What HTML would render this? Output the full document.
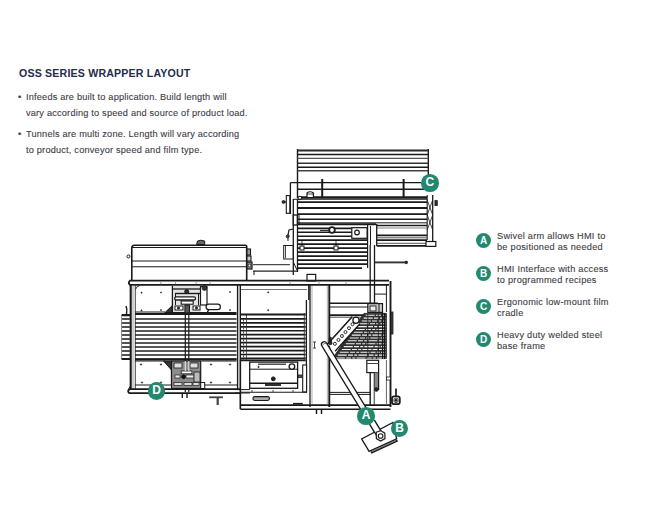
<!DOCTYPE html>
<html><head><meta charset="utf-8">
<style>
html,body{margin:0;padding:0;background:#fff;}
body{width:650px;height:509px;position:relative;overflow:hidden;font-family:"Liberation Sans",sans-serif;}
.t{position:absolute;white-space:nowrap;}
#title{left:19px;top:67px;font-size:10.6px;font-weight:bold;color:#252b4a;letter-spacing:0.19px;}
.b{font-size:9.2px;color:#3e3e46;letter-spacing:0.2px;-webkit-text-stroke:0.12px #3e3e46;}
.leg{font-size:9.2px;color:#3e3e46;line-height:11.4px;letter-spacing:0.25px;-webkit-text-stroke:0.12px #3e3e46;}
.circ{position:absolute;width:15px;height:15px;border-radius:50%;background:#22896f;color:#fff;font-weight:bold;font-size:10px;text-align:center;line-height:15px;}
.dc{position:absolute;width:17.5px;height:17.5px;border-radius:50%;background:#22896f;color:#fff;font-weight:bold;font-size:12px;text-align:center;line-height:17.5px;}
svg{position:absolute;left:0;top:0;}
</style></head><body>
<svg width="650" height="509" viewBox="0 0 650 509" stroke-linecap="butt">
<line x1="297.5" y1="149" x2="297.5" y2="198" stroke="#1a1a1a" stroke-width="1.4"/>
<line x1="428.3" y1="149" x2="428.3" y2="190" stroke="#1a1a1a" stroke-width="1.4"/>
<line x1="297.5" y1="150.5" x2="428.3" y2="150.5" stroke="#2a2a2a" stroke-width="1.8"/>
<line x1="297.5" y1="154.6" x2="428.3" y2="154.6" stroke="#1a1a1a" stroke-width="1.5"/>
<line x1="297.5" y1="158.3" x2="428.3" y2="158.3" stroke="#555" stroke-width="1.2"/>
<line x1="297.5" y1="163.2" x2="428.3" y2="163.2" stroke="#333" stroke-width="1.5"/>
<line x1="297.5" y1="167.2" x2="428.3" y2="167.2" stroke="#1a1a1a" stroke-width="1.5"/>
<line x1="297.5" y1="170.8" x2="428.3" y2="170.8" stroke="#444" stroke-width="1.6"/>
<line x1="290.4" y1="182.7" x2="421" y2="182.7" stroke="#1a1a1a" stroke-width="1.3"/>
<line x1="290.4" y1="182.7" x2="290.4" y2="214" stroke="#1a1a1a" stroke-width="1.3"/>
<line x1="322.2" y1="179" x2="322.2" y2="197" stroke="#1a1a1a" stroke-width="2.0"/>
<line x1="403.6" y1="179" x2="403.6" y2="197" stroke="#1a1a1a" stroke-width="2.0"/>
<line x1="297.5" y1="189.2" x2="428" y2="189.2" stroke="#1a1a1a" stroke-width="1.4"/>
<line x1="300" y1="197.4" x2="427" y2="197.4" stroke="#1a1a1a" stroke-width="2.5"/>
<path d="M307,197 L307,193 Q310,190.5 313.4,193 L313.4,197" stroke="#1a1a1a" stroke-width="1.2" fill="#fff"/>
<line x1="307" y1="194" x2="313.4" y2="194" stroke="#1a1a1a" stroke-width="0.8"/>
<circle cx="299.8" cy="198" r="1.8" stroke="#1a1a1a" stroke-width="1.1" fill="#fff"/>
<line x1="293.3" y1="199.2" x2="427" y2="199.2" stroke="#1a1a1a" stroke-width="1.1"/>
<line x1="297.5" y1="202.1" x2="427" y2="202.1" stroke="#1a1a1a" stroke-width="1.8"/>
<line x1="297.5" y1="208" x2="427" y2="208" stroke="#1a1a1a" stroke-width="1.8"/>
<line x1="297.5" y1="214.2" x2="427" y2="214.2" stroke="#1a1a1a" stroke-width="1.8"/>
<line x1="297.5" y1="219.2" x2="427" y2="219.2" stroke="#1a1a1a" stroke-width="1.6"/>
<line x1="297.5" y1="222.8" x2="427" y2="222.8" stroke="#666" stroke-width="1.6"/>
<line x1="293.3" y1="199" x2="293.3" y2="275" stroke="#1a1a1a" stroke-width="1.3"/>
<line x1="297.5" y1="199" x2="297.5" y2="272" stroke="#1a1a1a" stroke-width="1.3"/>
<line x1="427.2" y1="195" x2="427.2" y2="240" stroke="#1a1a1a" stroke-width="1.1"/>
<line x1="432.7" y1="195" x2="432.7" y2="244" stroke="#1a1a1a" stroke-width="1.3"/>
<line x1="427.2" y1="200" x2="432.7" y2="215" stroke="#1a1a1a" stroke-width="0.8"/>
<line x1="432.7" y1="200" x2="427.2" y2="215" stroke="#1a1a1a" stroke-width="0.8"/>
<line x1="427.2" y1="215" x2="432.7" y2="230" stroke="#1a1a1a" stroke-width="0.8"/>
<line x1="432.7" y1="215" x2="427.2" y2="230" stroke="#1a1a1a" stroke-width="0.8"/>
<rect x="435" y="200.7" width="2.2" height="4.7" rx="0" stroke="#1a1a1a" stroke-width="1.0" fill="#333"/>
<rect x="286.3" y="195.6" width="3.5" height="17.7" rx="0" stroke="#1a1a1a" stroke-width="1.1" fill="#fff"/>
<circle cx="283.5" cy="202" r="1.4" stroke="#1a1a1a" stroke-width="1.0" fill="#333"/>
<line x1="284" y1="202" x2="286.3" y2="202" stroke="#1a1a1a" stroke-width="1.2"/>
<rect x="293.3" y="215" width="4" height="10" rx="0" stroke="#1a1a1a" stroke-width="1.3" fill="#fff"/>
<line x1="299" y1="215" x2="299" y2="225" stroke="#1a1a1a" stroke-width="1.0"/>
<path d="M293,229 L289,230 L288,235" stroke="#1a1a1a" stroke-width="1.2" fill="none"/>
<circle cx="287.5" cy="236.5" r="1.3" stroke="#1a1a1a" stroke-width="1.0" fill="none"/>
<line x1="297.5" y1="224.3" x2="376" y2="224.3" stroke="#1a1a1a" stroke-width="2.0"/>
<line x1="297.5" y1="228.28" x2="368" y2="228.28" stroke="#1a1a1a" stroke-width="1.7"/>
<line x1="297.5" y1="232.26000000000002" x2="368" y2="232.26000000000002" stroke="#1a1a1a" stroke-width="1.7"/>
<line x1="297.5" y1="236.24" x2="368" y2="236.24" stroke="#1a1a1a" stroke-width="1.7"/>
<line x1="297.5" y1="240.22" x2="368" y2="240.22" stroke="#1a1a1a" stroke-width="1.7"/>
<line x1="297.5" y1="244.20000000000002" x2="368" y2="244.20000000000002" stroke="#1a1a1a" stroke-width="1.7"/>
<line x1="297.5" y1="248.18" x2="368" y2="248.18" stroke="#1a1a1a" stroke-width="1.7"/>
<line x1="297.5" y1="252.16000000000003" x2="368" y2="252.16000000000003" stroke="#1a1a1a" stroke-width="1.7"/>
<line x1="297.5" y1="256.14" x2="368" y2="256.14" stroke="#1a1a1a" stroke-width="1.7"/>
<line x1="297.5" y1="260.12" x2="368" y2="260.12" stroke="#1a1a1a" stroke-width="1.7"/>
<line x1="297.5" y1="264.1" x2="368" y2="264.1" stroke="#1a1a1a" stroke-width="1.7"/>
<line x1="297.5" y1="268.08000000000004" x2="362" y2="268.08000000000004" stroke="#1a1a1a" stroke-width="1.7"/>
<circle cx="332" cy="230" r="2.8" stroke="#1a1a1a" stroke-width="1.8" fill="#fff"/>
<line x1="320" y1="230.4" x2="329" y2="230.4" stroke="#1a1a1a" stroke-width="1.0"/>
<rect x="300" y="246" width="4" height="4" rx="0" stroke="#1a1a1a" stroke-width="1.0" fill="#fff"/>
<rect x="334" y="246" width="4" height="4" rx="0" stroke="#1a1a1a" stroke-width="1.0" fill="#fff"/>
<line x1="302" y1="241" x2="302" y2="246" stroke="#1a1a1a" stroke-width="0.8"/>
<line x1="336" y1="241" x2="336" y2="246" stroke="#1a1a1a" stroke-width="0.8"/>
<rect x="351.8" y="227.7" width="15.3" height="10.6" rx="0" stroke="#1a1a1a" stroke-width="1.2" fill="#fff"/>
<circle cx="357" cy="232.5" r="2.3" stroke="#1a1a1a" stroke-width="1.2" fill="#fff"/>
<line x1="367.6" y1="224" x2="367.6" y2="268" stroke="#1a1a1a" stroke-width="1.2"/>
<line x1="370.5" y1="226" x2="370.5" y2="245" stroke="#1a1a1a" stroke-width="1.0"/>
<line x1="370.2" y1="245" x2="370.2" y2="303" stroke="#1a1a1a" stroke-width="1.3"/>
<line x1="374.5" y1="245" x2="374.5" y2="303" stroke="#1a1a1a" stroke-width="1.3"/>
<line x1="376.7" y1="225.5" x2="427" y2="225.5" stroke="#1a1a1a" stroke-width="1.7"/>
<line x1="376.7" y1="228" x2="427" y2="228" stroke="#777" stroke-width="0.9"/>
<line x1="376.7" y1="235.3" x2="427" y2="235.3" stroke="#1a1a1a" stroke-width="1.7"/>
<line x1="376.7" y1="237.8" x2="427" y2="237.8" stroke="#555" stroke-width="1.0"/>
<line x1="376.7" y1="240.2" x2="427" y2="240.2" stroke="#1a1a1a" stroke-width="1.7"/>
<line x1="376.7" y1="243.3" x2="427" y2="243.3" stroke="#555" stroke-width="1.0"/>
<line x1="376.7" y1="245.8" x2="435" y2="245.8" stroke="#1a1a1a" stroke-width="1.7"/>
<line x1="376.7" y1="224" x2="376.7" y2="246" stroke="#1a1a1a" stroke-width="1.3"/>
<rect x="426" y="241.5" width="9.8" height="4.9" rx="0" stroke="#1a1a1a" stroke-width="1.2" fill="#fff"/>
<line x1="374.5" y1="262.4" x2="406" y2="262.4" stroke="#333" stroke-width="1.9"/>
<circle cx="406.3" cy="262.4" r="1.3" stroke="#1a1a1a" stroke-width="0.8" fill="#222"/>
<path d="M293.3,262 L297,270" stroke="#1a1a1a" stroke-width="1.0" fill="none"/>
<rect x="307" y="274.4" width="8.7" height="6.6" rx="0" stroke="#1a1a1a" stroke-width="1.2" fill="#fff"/>
<path d="M131.8,280.5 L131.8,248 Q131.8,245.2 134.6,245.2 L245.5,245.2 Q246.7,245.2 246.7,246.5 L246.7,280.5" stroke="#1a1a1a" stroke-width="1.6" fill="none"/>
<line x1="132" y1="247.5" x2="246.5" y2="247.5" stroke="#1a1a1a" stroke-width="1.2"/>
<line x1="132" y1="261" x2="246.5" y2="261" stroke="#1a1a1a" stroke-width="1.1"/>
<line x1="132" y1="266.8" x2="246.5" y2="266.8" stroke="#1a1a1a" stroke-width="1.1"/>
<path d="M196.6,244.5 L197.5,241 Q200.5,239.5 204.7,241 L204.7,244.5 Z" stroke="#1a1a1a" stroke-width="1.0" fill="#666"/>
<circle cx="128.5" cy="256.5" r="1.5" stroke="#1a1a1a" stroke-width="1.0" fill="none"/>
<rect x="247" y="249" width="3.5" height="6" rx="0" stroke="#1a1a1a" stroke-width="1.1" fill="#999"/>
<rect x="247" y="256" width="4" height="5" rx="0" stroke="#1a1a1a" stroke-width="1.1" fill="#ccc"/>
<rect x="247" y="262" width="5" height="7" rx="0" stroke="#1a1a1a" stroke-width="1.2" fill="#888"/>
<circle cx="249.5" cy="265.5" r="1.3" stroke="#1a1a1a" stroke-width="0.8" fill="#fff"/>
<line x1="254" y1="271" x2="254" y2="275" stroke="#1a1a1a" stroke-width="1.0"/>
<line x1="253" y1="264.7" x2="290" y2="264.7" stroke="#222" stroke-width="1.0"/>
<line x1="253" y1="271.2" x2="297" y2="271.2" stroke="#222" stroke-width="1.3"/>
<rect x="283.7" y="245.5" width="9.3" height="13.5" rx="0" stroke="#1a1a1a" stroke-width="1.0" fill="#fff"/>
<line x1="285.5" y1="246" x2="285.5" y2="258" stroke="#1a1a1a" stroke-width="0.8"/>
<path d="M288,236 L288,241" stroke="#1a1a1a" stroke-width="1.0" fill="none"/>
<circle cx="288" cy="236" r="1.2" stroke="#1a1a1a" stroke-width="0.9" fill="none"/>
<path d="M389,280.6 L130,280.6 Q127.6,282.7 130,284.9 L389,284.9" stroke="#1a1a1a" stroke-width="1.9" fill="none"/>
<line x1="160.8" y1="281.3" x2="160.8" y2="284.3" stroke="#888" stroke-width="0.8"/>
<line x1="175.4" y1="281.3" x2="175.4" y2="284.3" stroke="#888" stroke-width="0.8"/>
<line x1="196.2" y1="281.3" x2="196.2" y2="284.3" stroke="#888" stroke-width="0.8"/>
<line x1="210" y1="281.3" x2="210" y2="284.3" stroke="#888" stroke-width="0.8"/>
<line x1="290" y1="281.3" x2="290" y2="284.3" stroke="#888" stroke-width="0.8"/>
<line x1="319" y1="281.3" x2="319" y2="284.3" stroke="#888" stroke-width="0.8"/>
<line x1="346" y1="281.3" x2="346" y2="284.3" stroke="#888" stroke-width="0.8"/>
<line x1="130.7" y1="285" x2="130.7" y2="390" stroke="#1a1a1a" stroke-width="2.1"/>
<line x1="133" y1="285" x2="133" y2="390" stroke="#777" stroke-width="0.7"/>
<line x1="135.3" y1="285" x2="135.3" y2="390" stroke="#444" stroke-width="1.0"/>
<path d="M135.6,289.5 Q136,286 140,285.5" stroke="#1a1a1a" stroke-width="0.8" fill="none"/>
<line x1="237.6" y1="285" x2="237.6" y2="390" stroke="#1a1a1a" stroke-width="1.4"/>
<line x1="240.3" y1="285" x2="240.3" y2="409" stroke="#1a1a1a" stroke-width="1.4"/>
<circle cx="141.5" cy="292.7" r="0.6" stroke="#1a1a1a" stroke-width="0.6" fill="#333"/>
<circle cx="161" cy="292.5" r="0.6" stroke="#1a1a1a" stroke-width="0.6" fill="#333"/>
<circle cx="141.5" cy="310.4" r="0.6" stroke="#1a1a1a" stroke-width="0.6" fill="#333"/>
<circle cx="161" cy="310" r="0.6" stroke="#1a1a1a" stroke-width="0.6" fill="#333"/>
<circle cx="230" cy="292" r="0.6" stroke="#1a1a1a" stroke-width="0.6" fill="#333"/>
<circle cx="230" cy="310" r="0.6" stroke="#1a1a1a" stroke-width="0.6" fill="#333"/>
<circle cx="268.2" cy="292.3" r="0.6" stroke="#1a1a1a" stroke-width="0.6" fill="#333"/>
<circle cx="268.2" cy="310.2" r="0.6" stroke="#1a1a1a" stroke-width="0.6" fill="#333"/>
<line x1="135" y1="314" x2="236.5" y2="314" stroke="#1a1a1a" stroke-width="2.0"/>
<line x1="135" y1="319" x2="236.5" y2="319" stroke="#222" stroke-width="1.6"/>
<line x1="135" y1="323" x2="236.5" y2="323" stroke="#222" stroke-width="1.6"/>
<line x1="135" y1="327" x2="236.5" y2="327" stroke="#222" stroke-width="1.6"/>
<line x1="135" y1="331" x2="236.5" y2="331" stroke="#222" stroke-width="1.6"/>
<line x1="135" y1="335" x2="236.5" y2="335" stroke="#222" stroke-width="1.6"/>
<line x1="135" y1="339" x2="236.5" y2="339" stroke="#222" stroke-width="1.6"/>
<line x1="135" y1="343" x2="236.5" y2="343" stroke="#222" stroke-width="1.6"/>
<line x1="135" y1="347" x2="236.5" y2="347" stroke="#222" stroke-width="1.6"/>
<line x1="135" y1="351" x2="236.5" y2="351" stroke="#222" stroke-width="1.6"/>
<line x1="135" y1="355" x2="236.5" y2="355" stroke="#222" stroke-width="1.6"/>
<line x1="135" y1="359" x2="236.5" y2="359" stroke="#222" stroke-width="1.6"/>
<line x1="135" y1="359.5" x2="236.5" y2="359.5" stroke="#1a1a1a" stroke-width="2.0"/>
<line x1="122.5" y1="319" x2="129.5" y2="319" stroke="#1a1a1a" stroke-width="1.6" stroke-linecap="round"/>
<line x1="122.5" y1="323" x2="129.5" y2="323" stroke="#1a1a1a" stroke-width="1.6" stroke-linecap="round"/>
<line x1="122.5" y1="327" x2="129.5" y2="327" stroke="#1a1a1a" stroke-width="1.6" stroke-linecap="round"/>
<line x1="122.5" y1="331" x2="129.5" y2="331" stroke="#1a1a1a" stroke-width="1.6" stroke-linecap="round"/>
<line x1="122.5" y1="335" x2="129.5" y2="335" stroke="#1a1a1a" stroke-width="1.6" stroke-linecap="round"/>
<line x1="122.5" y1="339" x2="129.5" y2="339" stroke="#1a1a1a" stroke-width="1.6" stroke-linecap="round"/>
<line x1="122.5" y1="343" x2="129.5" y2="343" stroke="#1a1a1a" stroke-width="1.6" stroke-linecap="round"/>
<line x1="122.5" y1="347" x2="129.5" y2="347" stroke="#1a1a1a" stroke-width="1.6" stroke-linecap="round"/>
<line x1="122.5" y1="351" x2="129.5" y2="351" stroke="#1a1a1a" stroke-width="1.6" stroke-linecap="round"/>
<line x1="122.5" y1="355" x2="129.5" y2="355" stroke="#1a1a1a" stroke-width="1.6" stroke-linecap="round"/>
<line x1="122.5" y1="359" x2="129.5" y2="359" stroke="#1a1a1a" stroke-width="1.6" stroke-linecap="round"/>
<line x1="122.5" y1="315.2" x2="129.5" y2="315.2" stroke="#1a1a1a" stroke-width="2.2" stroke-linecap="round"/>
<line x1="122.5" y1="359" x2="129.5" y2="359" stroke="#1a1a1a" stroke-width="2.2" stroke-linecap="round"/>
<line x1="121.6" y1="315" x2="121.6" y2="359" stroke="#555" stroke-width="0.7"/>
<path d="M126,306 Q127.5,309 126.5,314" stroke="#1a1a1a" stroke-width="1.5" fill="none"/>
<line x1="185.3" y1="305" x2="185.3" y2="392" stroke="#1a1a1a" stroke-width="1.2"/>
<line x1="188.8" y1="305" x2="188.8" y2="392" stroke="#1a1a1a" stroke-width="1.2"/>
<line x1="240.3" y1="314.6" x2="305.7" y2="314.6" stroke="#1a1a1a" stroke-width="2.0"/>
<line x1="240.3" y1="318.85999999999996" x2="305.7" y2="318.85999999999996" stroke="#1a1a1a" stroke-width="1.7"/>
<line x1="240.3" y1="322.82" x2="305.7" y2="322.82" stroke="#1a1a1a" stroke-width="1.7"/>
<line x1="240.3" y1="326.78" x2="305.7" y2="326.78" stroke="#1a1a1a" stroke-width="1.7"/>
<line x1="240.3" y1="330.73999999999995" x2="305.7" y2="330.73999999999995" stroke="#1a1a1a" stroke-width="1.7"/>
<line x1="240.3" y1="334.7" x2="305.7" y2="334.7" stroke="#1a1a1a" stroke-width="1.7"/>
<line x1="240.3" y1="338.65999999999997" x2="305.7" y2="338.65999999999997" stroke="#1a1a1a" stroke-width="1.7"/>
<line x1="240.3" y1="342.62" x2="305.7" y2="342.62" stroke="#1a1a1a" stroke-width="1.7"/>
<line x1="240.3" y1="346.58" x2="305.7" y2="346.58" stroke="#1a1a1a" stroke-width="1.7"/>
<line x1="240.3" y1="350.53999999999996" x2="305.7" y2="350.53999999999996" stroke="#1a1a1a" stroke-width="1.7"/>
<line x1="240.3" y1="354.5" x2="305.7" y2="354.5" stroke="#1a1a1a" stroke-width="1.7"/>
<line x1="240.3" y1="358.46" x2="305.7" y2="358.46" stroke="#1a1a1a" stroke-width="1.7"/>
<line x1="240.3" y1="360.3" x2="305.7" y2="360.3" stroke="#1a1a1a" stroke-width="1.8"/>
<line x1="246.5" y1="315" x2="246.5" y2="360" stroke="#333" stroke-width="0.8"/>
<line x1="243.5" y1="319.65999999999997" x2="243.5" y2="321.46" stroke="#333" stroke-width="0.9"/>
<line x1="243.5" y1="323.62" x2="243.5" y2="325.42" stroke="#333" stroke-width="0.9"/>
<line x1="243.5" y1="327.58" x2="243.5" y2="329.38" stroke="#333" stroke-width="0.9"/>
<line x1="243.5" y1="331.53999999999996" x2="243.5" y2="333.34" stroke="#333" stroke-width="0.9"/>
<line x1="243.5" y1="335.5" x2="243.5" y2="337.3" stroke="#333" stroke-width="0.9"/>
<line x1="243.5" y1="339.46" x2="243.5" y2="341.26" stroke="#333" stroke-width="0.9"/>
<line x1="243.5" y1="343.42" x2="243.5" y2="345.22" stroke="#333" stroke-width="0.9"/>
<line x1="243.5" y1="347.38" x2="243.5" y2="349.18" stroke="#333" stroke-width="0.9"/>
<line x1="243.5" y1="351.34" x2="243.5" y2="353.14" stroke="#333" stroke-width="0.9"/>
<line x1="243.5" y1="355.3" x2="243.5" y2="357.1" stroke="#333" stroke-width="0.9"/>
<line x1="243.5" y1="359.26" x2="243.5" y2="361.06" stroke="#333" stroke-width="0.9"/>
<line x1="304.3" y1="313" x2="304.3" y2="360" stroke="#333" stroke-width="0.9"/>
<line x1="241" y1="289.5" x2="307" y2="289.5" stroke="#666" stroke-width="0.9"/>
<line x1="308.8" y1="285" x2="308.8" y2="300" stroke="#1a1a1a" stroke-width="1.4"/>
<line x1="306.4" y1="300" x2="306.4" y2="392" stroke="#1a1a1a" stroke-width="1.3"/>
<line x1="135" y1="312" x2="165" y2="312" stroke="#1a1a1a" stroke-width="1.0"/>
<path d="M207,312 L214,305" stroke="#1a1a1a" stroke-width="1.0" fill="none"/>
<path d="M164.5,313 L172.4,305.5 L172.4,313 Z" stroke="#1a1a1a" stroke-width="1.0" fill="#333"/>
<rect x="172.4" y="286" width="28.6" height="27" fill="#e4e4e4"/>
<line x1="172.4" y1="286" x2="172.4" y2="313" stroke="#1a1a1a" stroke-width="1.3"/>
<line x1="172.4" y1="289" x2="201" y2="289" stroke="#1a1a1a" stroke-width="1.3"/>
<circle cx="186.7" cy="291.6" r="2.0" stroke="#1a1a1a" stroke-width="1.0" fill="#333"/>
<line x1="175" y1="293.5" x2="200" y2="293.5" stroke="#1a1a1a" stroke-width="1.4"/>
<line x1="175.5" y1="293.5" x2="175.5" y2="305" stroke="#1a1a1a" stroke-width="1.0"/>
<line x1="198.5" y1="293.5" x2="198.5" y2="305" stroke="#1a1a1a" stroke-width="1.0"/>
<rect x="174.7" y="296.8" width="20.8" height="3.2" rx="1.6" stroke="#1a1a1a" stroke-width="1.3" fill="#fff"/>
<rect x="181.2" y="301" width="12" height="3.2" rx="0" stroke="#1a1a1a" stroke-width="1.1" fill="#fff"/>
<rect x="200.5" y="286.6" width="6.5" height="18.4" rx="0" stroke="#1a1a1a" stroke-width="1.2" fill="#fff"/>
<circle cx="204.5" cy="288" r="2.4" stroke="#1a1a1a" stroke-width="0.8" fill="#333"/>
<rect x="206.1" y="304.2" width="14.3" height="5.5" rx="2.7" stroke="#1a1a1a" stroke-width="1.2" fill="#fff"/>
<rect x="175" y="306" width="8" height="4" rx="0" stroke="#1a1a1a" stroke-width="1.0" fill="#fff"/>
<rect x="193" y="306" width="7" height="4" rx="0" stroke="#1a1a1a" stroke-width="1.0" fill="#fff"/>
<circle cx="178.5" cy="308" r="1.1" stroke="#1a1a1a" stroke-width="0.8" fill="#222"/>
<circle cx="196.5" cy="308" r="1.1" stroke="#1a1a1a" stroke-width="0.8" fill="#222"/>
<line x1="165" y1="312.8" x2="236.5" y2="312.8" stroke="#1a1a1a" stroke-width="1.5"/>
<line x1="208" y1="309" x2="208" y2="313" stroke="#1a1a1a" stroke-width="1.0"/>
<rect x="184.9" y="305" width="4.6" height="8" rx="0" stroke="#1a1a1a" stroke-width="1.0" fill="#555"/>
<path d="M135,361 L164.6,361 L171.5,368 L171.5,385" stroke="#1a1a1a" stroke-width="1.1" fill="none"/>
<line x1="135" y1="385" x2="171.5" y2="385" stroke="#1a1a1a" stroke-width="1.0"/>
<circle cx="141" cy="364.5" r="0.7" stroke="#1a1a1a" stroke-width="0.6" fill="#333"/>
<circle cx="161" cy="364.5" r="0.7" stroke="#1a1a1a" stroke-width="0.6" fill="#333"/>
<circle cx="142" cy="382.5" r="0.7" stroke="#1a1a1a" stroke-width="0.6" fill="#333"/>
<circle cx="161" cy="382.5" r="0.7" stroke="#1a1a1a" stroke-width="0.6" fill="#333"/>
<circle cx="211" cy="382.5" r="0.7" stroke="#1a1a1a" stroke-width="0.6" fill="#333"/>
<circle cx="230" cy="382.5" r="0.7" stroke="#1a1a1a" stroke-width="0.6" fill="#333"/>
<circle cx="211" cy="364.5" r="0.7" stroke="#1a1a1a" stroke-width="0.6" fill="#333"/>
<circle cx="230" cy="364.5" r="0.7" stroke="#1a1a1a" stroke-width="0.6" fill="#333"/>
<line x1="201.5" y1="361" x2="236.5" y2="361" stroke="#1a1a1a" stroke-width="1.0"/>
<line x1="201.5" y1="385" x2="237" y2="385" stroke="#1a1a1a" stroke-width="1.0"/>
<path d="M163.5,361 L171.5,361 L171.5,370 Z" stroke="#1a1a1a" stroke-width="1.0" fill="#333"/>
<rect x="171.5" y="361" width="29.2" height="27.5" fill="#8c8c8c"/>
<rect x="171.5" y="361" width="29.2" height="27.5" rx="0" stroke="#1a1a1a" stroke-width="1.2" fill="none"/>
<rect x="174" y="363" width="8" height="5" rx="0" stroke="#1a1a1a" stroke-width="0.8" fill="#ddd"/>
<rect x="190" y="363" width="8" height="5" rx="0" stroke="#1a1a1a" stroke-width="0.8" fill="#ddd"/>
<rect x="181.2" y="371" width="10.7" height="2.8" rx="0" stroke="#1a1a1a" stroke-width="0.8" fill="#fff"/>
<rect x="175" y="375" width="5" height="3" rx="0" stroke="#1a1a1a" stroke-width="0.7" fill="#eee"/>
<rect x="186" y="375" width="8" height="3" rx="0" stroke="#1a1a1a" stroke-width="0.7" fill="#eee"/>
<circle cx="183.5" cy="376.7" r="2.0" stroke="#1a1a1a" stroke-width="0.8" fill="#111"/>
<rect x="194" y="372" width="6" height="10" rx="0" stroke="#1a1a1a" stroke-width="0.8" fill="#bbb"/>
<rect x="174" y="382.5" width="8" height="3" rx="0" stroke="#1a1a1a" stroke-width="0.7" fill="#ddd"/>
<rect x="184" y="382.5" width="8" height="3" rx="0" stroke="#1a1a1a" stroke-width="0.7" fill="#ddd"/>
<rect x="193" y="382.5" width="6" height="3" rx="0" stroke="#1a1a1a" stroke-width="0.7" fill="#ddd"/>
<line x1="185.3" y1="361" x2="185.3" y2="371" stroke="#eee" stroke-width="1.0"/>
<line x1="188.8" y1="361" x2="188.8" y2="371" stroke="#eee" stroke-width="1.0"/>
<rect x="200.7" y="382.5" width="4" height="6" rx="0" stroke="#1a1a1a" stroke-width="1.0" fill="#fff"/>
<path d="M240.5,389.2 L129.5,389.2 Q126.8,391.2 129.5,393.2 L240.5,393.2" stroke="#1a1a1a" stroke-width="1.8" fill="none"/>
<path d="M130.7,386 Q128.5,388 128,391" stroke="#1a1a1a" stroke-width="1.0" fill="none"/>
<line x1="182.3" y1="393" x2="182.3" y2="398" stroke="#1a1a1a" stroke-width="1.4"/>
<line x1="187" y1="393" x2="187" y2="398" stroke="#1a1a1a" stroke-width="1.4"/>
<line x1="209.2" y1="397.3" x2="223" y2="397.3" stroke="#444" stroke-width="1.8"/>
<line x1="217.7" y1="397.3" x2="217.7" y2="405" stroke="#444" stroke-width="2.2"/>
<rect x="249.7" y="362.1" width="47.9" height="26.2" rx="0" stroke="#1a1a1a" stroke-width="1.3" fill="none"/>
<line x1="258" y1="364.2" x2="286" y2="364.2" stroke="#333" stroke-width="1.3"/>
<line x1="250" y1="369.2" x2="297.6" y2="369.2" stroke="#1a1a1a" stroke-width="1.0"/>
<line x1="250" y1="383.2" x2="297.6" y2="383.2" stroke="#1a1a1a" stroke-width="1.6"/>
<circle cx="291.9" cy="366.6" r="2.8" stroke="#1a1a1a" stroke-width="1.3" fill="#fff"/>
<circle cx="273.3" cy="378.8" r="1.9" stroke="#1a1a1a" stroke-width="1" fill="#222"/>
<circle cx="258.5" cy="367" r="0.7" stroke="#1a1a1a" stroke-width="0.6" fill="#222"/>
<line x1="265" y1="385" x2="281" y2="385" stroke="#1a1a1a" stroke-width="1.8"/>
<rect x="298" y="375" width="4" height="2.5" rx="0" stroke="#1a1a1a" stroke-width="0.8" fill="#555"/>
<rect x="302.7" y="365" width="3.9" height="27" rx="0" stroke="#1a1a1a" stroke-width="1.1" fill="#fff"/>
<line x1="241" y1="392.2" x2="307" y2="392.2" stroke="#1a1a1a" stroke-width="1.1"/>
<line x1="252" y1="390" x2="252" y2="392" stroke="#1a1a1a" stroke-width="0.8"/>
<line x1="273" y1="390" x2="273" y2="392" stroke="#1a1a1a" stroke-width="0.8"/>
<line x1="293" y1="390" x2="293" y2="392" stroke="#1a1a1a" stroke-width="0.8"/>
<line x1="235" y1="389.6" x2="250" y2="389.6" stroke="#1a1a1a" stroke-width="1.0"/>
<line x1="235" y1="393" x2="250" y2="393" stroke="#1a1a1a" stroke-width="1.0"/>
<line x1="240.5" y1="405.2" x2="390.5" y2="405.2" stroke="#1a1a1a" stroke-width="1.7"/>
<line x1="240.5" y1="409.3" x2="390.5" y2="409.3" stroke="#1a1a1a" stroke-width="1.5"/>
<line x1="240.5" y1="360" x2="240.5" y2="409.3" stroke="#1a1a1a" stroke-width="1.3"/>
<rect x="252.9" y="396.6" width="16.6" height="3.9" rx="1.9" stroke="#1a1a1a" stroke-width="1.1" fill="#aaa"/>
<line x1="316.5" y1="409" x2="316.5" y2="414" stroke="#1a1a1a" stroke-width="1.5"/>
<line x1="321.5" y1="409" x2="321.5" y2="414" stroke="#1a1a1a" stroke-width="1.5"/>
<line x1="293" y1="403.7" x2="302.7" y2="403.7" stroke="#1a1a1a" stroke-width="1.6"/>
<line x1="310" y1="285" x2="310" y2="407" stroke="#1a1a1a" stroke-width="1.3"/>
<line x1="312" y1="286" x2="312" y2="405" stroke="#777" stroke-width="0.6"/>
<line x1="329.3" y1="285" x2="329.3" y2="407" stroke="#1a1a1a" stroke-width="1.9"/>
<line x1="327.3" y1="286" x2="327.3" y2="405" stroke="#777" stroke-width="0.6"/>
<path d="M313,342 L316,342 M314.5,342 L314.5,348 M313,348 L316,348" stroke="#1a1a1a" stroke-width="0.8" fill="none"/>
<line x1="390.5" y1="281" x2="390.5" y2="407" stroke="#1a1a1a" stroke-width="1.9"/>
<line x1="386.4" y1="285" x2="386.4" y2="312" stroke="#1a1a1a" stroke-width="1.0"/>
<line x1="374.5" y1="294.1" x2="386.4" y2="294.1" stroke="#1a1a1a" stroke-width="1.0"/>
<line x1="330" y1="303.3" x2="378" y2="303.3" stroke="#1a1a1a" stroke-width="1.6"/>
<line x1="330" y1="307" x2="370" y2="307" stroke="#1a1a1a" stroke-width="1.0"/>
<line x1="330" y1="315.1" x2="366" y2="315.1" stroke="#1a1a1a" stroke-width="1.6"/>
<line x1="330" y1="317.2" x2="364" y2="317.2" stroke="#1a1a1a" stroke-width="0.8"/>
<rect x="367.8" y="303.6" width="14.7" height="8.8" rx="0" stroke="#1a1a1a" stroke-width="1.2" fill="#ccc"/>
<rect x="370" y="306" width="6" height="5" rx="0" stroke="#1a1a1a" stroke-width="0.9" fill="#eee"/>
<line x1="379" y1="304" x2="379" y2="312" stroke="#1a1a1a" stroke-width="1.0"/>
<path d="M364,313.4 L386.4,313.4 L386.4,358.6 L332.4,358.6 Z" stroke="#1a1a1a" stroke-width="0.8" fill="#303030"/>
<line x1="365.7" y1="315.2" x2="385.5" y2="315.2" stroke="#f2f2f2" stroke-width="1.05" stroke-dasharray="9 1.2 5 1.2 3 1.2"/>
<line x1="363.7" y1="318.1" x2="385.5" y2="318.1" stroke="#f2f2f2" stroke-width="1.05" stroke-dasharray="9 1.2 5 1.2 3 1.2"/>
<line x1="361.8" y1="320.9" x2="385.5" y2="320.9" stroke="#f2f2f2" stroke-width="1.05" stroke-dasharray="9 1.2 5 1.2 3 1.2"/>
<line x1="359.8" y1="323.8" x2="385.5" y2="323.8" stroke="#f2f2f2" stroke-width="1.05" stroke-dasharray="9 1.2 5 1.2 3 1.2"/>
<line x1="357.8" y1="326.6" x2="385.5" y2="326.6" stroke="#f2f2f2" stroke-width="1.05" stroke-dasharray="9 1.2 5 1.2 3 1.2"/>
<line x1="355.8" y1="329.4" x2="385.5" y2="329.4" stroke="#f2f2f2" stroke-width="1.05" stroke-dasharray="9 1.2 5 1.2 3 1.2"/>
<line x1="353.8" y1="332.3" x2="385.5" y2="332.3" stroke="#f2f2f2" stroke-width="1.05" stroke-dasharray="9 1.2 5 1.2 3 1.2"/>
<line x1="351.8" y1="335.1" x2="385.5" y2="335.1" stroke="#f2f2f2" stroke-width="1.05" stroke-dasharray="9 1.2 5 1.2 3 1.2"/>
<line x1="349.8" y1="338.0" x2="385.5" y2="338.0" stroke="#f2f2f2" stroke-width="1.05" stroke-dasharray="9 1.2 5 1.2 3 1.2"/>
<line x1="347.8" y1="340.8" x2="385.5" y2="340.8" stroke="#f2f2f2" stroke-width="1.05" stroke-dasharray="9 1.2 5 1.2 3 1.2"/>
<line x1="345.8" y1="343.7" x2="385.5" y2="343.7" stroke="#f2f2f2" stroke-width="1.05" stroke-dasharray="9 1.2 5 1.2 3 1.2"/>
<line x1="343.8" y1="346.6" x2="385.5" y2="346.6" stroke="#f2f2f2" stroke-width="1.05" stroke-dasharray="9 1.2 5 1.2 3 1.2"/>
<line x1="341.8" y1="349.4" x2="385.5" y2="349.4" stroke="#f2f2f2" stroke-width="1.05" stroke-dasharray="9 1.2 5 1.2 3 1.2"/>
<line x1="339.8" y1="352.2" x2="385.5" y2="352.2" stroke="#f2f2f2" stroke-width="1.05" stroke-dasharray="9 1.2 5 1.2 3 1.2"/>
<line x1="337.8" y1="355.1" x2="385.5" y2="355.1" stroke="#f2f2f2" stroke-width="1.05" stroke-dasharray="9 1.2 5 1.2 3 1.2"/>
<line x1="335.9" y1="357.9" x2="385.5" y2="357.9" stroke="#f2f2f2" stroke-width="1.05" stroke-dasharray="9 1.2 5 1.2 3 1.2"/>
<line x1="367.8" y1="314" x2="367.8" y2="358" stroke="#1a1a1a" stroke-width="0.8"/>
<line x1="378.3" y1="314" x2="378.3" y2="358" stroke="#1a1a1a" stroke-width="0.8"/>
<line x1="382.6" y1="313" x2="382.6" y2="359" stroke="#1a1a1a" stroke-width="1.2"/>
<line x1="384.6" y1="313" x2="384.6" y2="359" stroke="#1a1a1a" stroke-width="1.2"/>
<line x1="352.3" y1="316.8" x2="327.5" y2="344.3" stroke="#1a1a1a" stroke-width="1.3"/>
<line x1="359.9" y1="323.6" x2="335.1" y2="351.1" stroke="#1a1a1a" stroke-width="1.3"/>
<path d="M352.3,316.8 L359.9,323.6 L335.1,351.1 L327.5,344.3 Z" stroke="#1a1a1a" stroke-width="0" fill="#fff"/>
<line x1="352.3" y1="316.8" x2="327.5" y2="344.3" stroke="#1a1a1a" stroke-width="1.3"/>
<line x1="359.9" y1="323.6" x2="335.1" y2="351.1" stroke="#1a1a1a" stroke-width="1.3"/>
<circle cx="356" cy="320.3" r="3.1" stroke="#1a1a1a" stroke-width="1.3" fill="#fff"/>
<circle cx="352.48571428571427" cy="324.22857142857146" r="1.5" stroke="#1a1a1a" stroke-width="0.9" fill="#fff"/>
<circle cx="348.9714285714286" cy="328.15714285714284" r="1.5" stroke="#1a1a1a" stroke-width="0.9" fill="#fff"/>
<circle cx="345.45714285714286" cy="332.0857142857143" r="1.5" stroke="#1a1a1a" stroke-width="0.9" fill="#fff"/>
<circle cx="341.9428571428571" cy="336.01428571428573" r="1.5" stroke="#1a1a1a" stroke-width="0.9" fill="#fff"/>
<circle cx="338.42857142857144" cy="339.9428571428572" r="1.5" stroke="#1a1a1a" stroke-width="0.9" fill="#fff"/>
<circle cx="334.9142857142857" cy="343.87142857142857" r="1.5" stroke="#1a1a1a" stroke-width="0.9" fill="#fff"/>
<rect x="391" y="312" width="2" height="22" rx="0" stroke="#1a1a1a" stroke-width="0.8" fill="#444"/>
<line x1="386.4" y1="360" x2="386.4" y2="405" stroke="#666" stroke-width="1.0"/>
<rect x="366.8" y="360.3" width="11.8" height="12.3" rx="0" stroke="#1a1a1a" stroke-width="1.2" fill="#fff"/>
<line x1="367" y1="363.5" x2="378.6" y2="363.5" stroke="#444" stroke-width="1.0"/>
<rect x="374.2" y="372.6" width="4.4" height="17" fill="#888"/>
<line x1="370.2" y1="372.6" x2="370.2" y2="405" stroke="#1a1a1a" stroke-width="1.4"/>
<line x1="374.2" y1="372.6" x2="374.2" y2="405" stroke="#1a1a1a" stroke-width="0.9"/>
<line x1="378.6" y1="372.6" x2="378.6" y2="390" stroke="#1a1a1a" stroke-width="1.2"/>
<circle cx="376.4" cy="389.5" r="1.8" stroke="#1a1a1a" stroke-width="1.0" fill="#222"/>
<rect x="386.4" y="377" width="4" height="3" rx="0" stroke="#1a1a1a" stroke-width="0.8" fill="#fff"/>
<line x1="330" y1="392.4" x2="370" y2="392.4" stroke="#1a1a1a" stroke-width="1.0"/>
<line x1="330" y1="394.4" x2="370" y2="394.4" stroke="#1a1a1a" stroke-width="1.0"/>
<rect x="392" y="396.4" width="7.8" height="7.8" rx="2.2" stroke="#1a1a1a" stroke-width="1.8" fill="#fff"/>
<circle cx="396" cy="400.3" r="2.3" stroke="#444" stroke-width="1.0" fill="#fff"/>
<circle cx="396" cy="400.3" r="1.2" stroke="#1a1a1a" stroke-width="0.5" fill="#222"/>
<line x1="396" y1="388.6" x2="396" y2="396.4" stroke="#1a1a1a" stroke-width="1.7"/>
<line x1="324.2" y1="344.5" x2="380.5" y2="436.5" stroke="#1a1a1a" stroke-width="6.8" stroke-linecap="round"/>
<line x1="324.2" y1="344.5" x2="380.5" y2="436.5" stroke="#fff" stroke-width="4.2" stroke-linecap="round"/>
<path d="M322.8,345.5 Q323.5,342.5 326,343.3" stroke="#555" stroke-width="0.7" fill="none"/>
<path d="M329,338 L331,337 L332,344 L329.5,345 Z" stroke="#1a1a1a" stroke-width="0.8" fill="#222"/>
<path d="M361.6,438.9 L369.1,451.3 L396.6,438.9 L393,422.5 Z" stroke="#1a1a1a" stroke-width="1.3" fill="#fff"/>
<path d="M371,452.8 L397.5,440.5" stroke="#1a1a1a" stroke-width="2.2" fill="none"/>
<path d="M372,451.6 L396,440.6" stroke="#bbb" stroke-width="0.6" fill="none"/>
<line x1="372" y1="422" x2="380.5" y2="436.2" stroke="#1a1a1a" stroke-width="7.4" stroke-linecap="butt"/>
<line x1="371" y1="420.5" x2="380.5" y2="436.2" stroke="#fff" stroke-width="4.8" stroke-linecap="butt"/>
<path d="M376.2,432.2 L380.6,430.6 L384.8,433.2 L385,438.6 L380.6,441 L376.4,438.6 Z" stroke="#1a1a1a" stroke-width="1.2" fill="#fff"/>
<circle cx="380.6" cy="436" r="2.3" stroke="#1a1a1a" stroke-width="1.1" fill="#fff"/>
</svg>
<div class="t" id="title">OSS SERIES WRAPPER LAYOUT</div>
<div class="t b" style="left:18px;top:92px">•</div>
<div class="t b" style="left:26px;top:92px">Infeeds are built to application. Build length will</div>
<div class="t b" style="left:26px;top:108px">vary according to speed and source of product load.</div>
<div class="t b" style="left:18px;top:129px">•</div>
<div class="t b" style="left:26px;top:129px">Tunnels are multi zone. Length will vary according</div>
<div class="t b" style="left:26px;top:145px">to product, conveyor speed and film type.</div>

<div class="circ" style="left:476px;top:232.5px">A</div>
<div class="t leg" style="left:497px;top:231px">Swivel arm allows HMI to<br>be positioned as needed</div>
<div class="circ" style="left:476px;top:265.5px">B</div>
<div class="t leg" style="left:497px;top:264px">HMI Interface with access<br>to programmed recipes</div>
<div class="circ" style="left:476px;top:298.5px">C</div>
<div class="t leg" style="left:497px;top:297px">Ergonomic low-mount film<br>cradle</div>
<div class="circ" style="left:476px;top:331.5px">D</div>
<div class="t leg" style="left:497px;top:330px">Heavy duty welded steel<br>base frame</div>

<div class="dc" style="left:421.2px;top:174.2px">C</div>
<div class="dc" style="left:147.8px;top:382.4px">D</div>
<div class="dc" style="left:357.4px;top:407.2px">A</div>
<div class="dc" style="left:390.8px;top:419.6px">B</div>
</body></html>
